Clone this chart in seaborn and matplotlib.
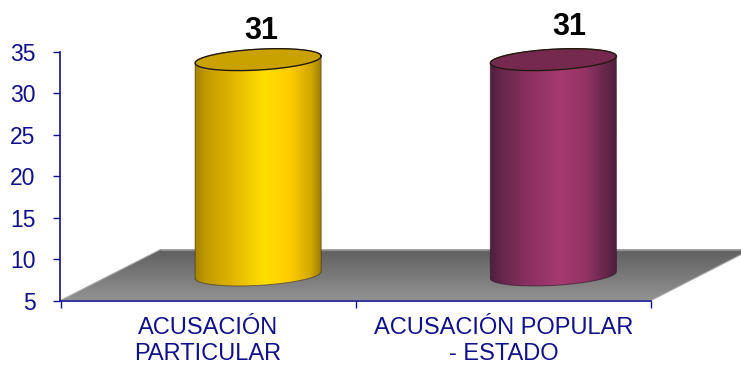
import numpy as np
import matplotlib
matplotlib.use("Agg")
import matplotlib.pyplot as plt
import seaborn as sns
from matplotlib.colors import LinearSegmentedColormap
from matplotlib.path import Path
from matplotlib.transforms import IdentityTransform

categories = ["ACUSACIÓN\nPARTICULAR", "ACUSACIÓN POPULAR\n- ESTADO"]
values = [31, 31]
y_ticks = [5, 10, 15, 20, 25, 30, 35]

NAVY = "#10108a"
BODY_STOPS = [0.0, 0.08, 0.3, 0.55, 0.75, 0.92, 1.0]
BODY_COLORS = [
    ["#a38300", "#c09a00", "#e2b600", "#ffdf00", "#ffcc00", "#cfa600", "#9c7c00"],
    ["#4f1f3c", "#64264a", "#8a3060", "#a63a70", "#943465", "#642649", "#4f1f3c"],
]
CAP_COLORS = ["#c9a200", "#75294f"]
FLOOR_COLORS = ["#5f5f5f", "#929292"]

# 3D look: px shift of the mid depth of the floor, ellipse shape of the cylinder
DEPTH_X, DEPTH_Y = 50, 25.5
TILT = np.radians(3.2)
MINOR_RATIO = 0.165

sns.set_theme(style="white")
plt.rcParams["font.family"] = ["Liberation Sans", "DejaVu Sans"]

fig = plt.figure(figsize=(7.41, 3.65), dpi=100)
ax = fig.add_axes([60.5 / 741, 1 - 300.5 / 365, (651 - 60.5) / 741, (300.5 - 52) / 365])
ax.patch.set_alpha(0)

sns.barplot(x=categories, y=values, width=0.427, ax=ax, color="white")
ax.set_xlim(-0.5, 1.5)
ax.set_ylim(y_ticks[0], y_ticks[-1])


def gradient_image(rows, cmap, box, clip, zorder):
    # image placed in pixel coords and cut down to the given outline
    im = ax.imshow(rows, cmap=cmap, extent=box, aspect="auto", origin="upper",
                   transform=IdentityTransform(), zorder=zorder, interpolation="bilinear")
    im.set_clip_path(clip, IdentityTransform())
    im.set_clip_box(fig.bbox)
    return im


def ellipse_points(cx, cy, a, b, t):
    x = cx + a * np.cos(t) * np.cos(TILT) - b * np.sin(t) * np.sin(TILT)
    y = cy + a * np.cos(t) * np.sin(TILT) + b * np.sin(t) * np.cos(TILT)
    return np.column_stack([x, y])


# floor, built from the axis corners
x0, y0 = ax.transData.transform((-0.5, y_ticks[0]))
x1, _ = ax.transData.transform((1.5, y_ticks[0]))
floor = np.array([[x0, y0], [x1, y0], [x1 + 2 * DEPTH_X, y0 + 2 * DEPTH_Y],
                  [x0 + 2 * DEPTH_X, y0 + 2 * DEPTH_Y], [x0, y0]])
floor_cmap = LinearSegmentedColormap.from_list("floor", FLOOR_COLORS)
gradient_image(np.linspace(0, 1, 64).reshape(-1, 1), floor_cmap,
               (x0, x1 + 2 * DEPTH_X, y0, y0 + 2 * DEPTH_Y), Path(floor), 1)
ax.plot(floor[2:4, 0], floor[2:4, 1], color="#8a8a8a", lw=1, transform=IdentityTransform(),
        clip_on=False, zorder=1.5)
ax.plot(floor[[1, 2], 0], floor[[1, 2], 1], color="#a8a8a8", lw=0.8, transform=IdentityTransform(),
        clip_on=False, zorder=1.5)
ax.plot(floor[[3, 0], 0], floor[[3, 0], 1], color="#a8a8a8", lw=0.8, transform=IdentityTransform(),
        clip_on=False, zorder=1.5)

# turn each seaborn bar into a cylinder
label_shift = [3, 16]
label_rise = [14, 18]
for i, bar in enumerate(ax.patches):
    left = bar.get_x()
    right = left + bar.get_width()
    top_val = bar.get_height()
    bar.set_visible(False)

    xl, yb = ax.transData.transform((left, y_ticks[0]))
    xr, yt = ax.transData.transform((right, top_val))
    cx = (xl + xr) / 2 + DEPTH_X
    cy_base = yb + DEPTH_Y
    cy_top = yt + DEPTH_Y
    half = (xr - xl) / 2
    b = half * MINOR_RATIO
    a = np.sqrt(max(half**2 - (b * np.sin(TILT))**2, 1)) / np.cos(TILT)

    # t of the left/right silhouette points of the tilted ellipse
    t0 = np.arctan2(-b * np.sin(TILT), a * np.cos(TILT))
    lower = np.linspace(np.pi + t0, 2 * np.pi + t0, 80)
    upper = np.linspace(t0, np.pi + t0, 80)
    outline = np.vstack([ellipse_points(cx, cy_base, a, b, lower),
                         ellipse_points(cx, cy_top, a, b, upper)])
    outline = np.vstack([outline, outline[0]])

    cmap = LinearSegmentedColormap.from_list("body", list(zip(BODY_STOPS, BODY_COLORS[i])))
    gradient_image(np.linspace(0, 1, 256).reshape(1, -1), cmap,
                   (cx - half, cx + half, cy_base - 20, cy_top + 20), Path(outline), 3)
    ax.plot(outline[:, 0], outline[:, 1], color="#3a3020" if i == 0 else "#2e1526", lw=0.7,
            alpha=0.6, transform=IdentityTransform(), clip_on=False, zorder=3.2)

    cap = ellipse_points(cx, cy_top, a, b, np.linspace(0, 2 * np.pi, 160))
    ax.fill(cap[:, 0], cap[:, 1], color=CAP_COLORS[i], lw=0, transform=IdentityTransform(),
            clip_on=False, zorder=3.4)
    ax.plot(cap[:, 0], cap[:, 1], color="#221a10", lw=1.0, transform=IdentityTransform(),
            clip_on=False, zorder=3.5)

    ax.annotate(str(values[i]), xy=(cx + label_shift[i], cy_top),
                xycoords=IdentityTransform(), xytext=(0, label_rise[i] * 0.72),
                textcoords="offset points", ha="center", va="bottom",
                fontsize=22, fontweight="bold", color="black", annotation_clip=False)

ax.set_xlim(-0.5, 1.5)
ax.set_ylim(y_ticks[0], y_ticks[-1])

# axes: ticks sit between the categories, labels under the categories
ax.set_xticks([-0.5, 0.5, 1.5])
ax.set_xticklabels([])
ax.set_xticks([0, 1], labels=categories, minor=True)
ax.tick_params(axis="x", which="major", length=5, width=1, color=NAVY, bottom=True)
ax.tick_params(axis="x", which="minor", length=0, pad=12, labelsize=17, labelcolor=NAVY,
               bottom=False)
ax.set_yticks(y_ticks)
ax.tick_params(axis="y", length=5, width=1, color=NAVY, left=True, pad=13, labelcolor=NAVY)
for lab in ax.get_yticklabels():
    lab.set_fontsize(16.5)
for lab in ax.get_xticklabels(minor=True):
    lab.set_linespacing(1.22)

sns.despine(ax=ax)
for side in ["left", "bottom"]:
    ax.spines[side].set_color(NAVY)
    ax.spines[side].set_linewidth(1.2)
    ax.spines[side].set_zorder(5)
ax.grid(False)
ax.set_xlabel("")
ax.set_ylabel("")

fig.savefig("out.png", dpi=100, facecolor="white")
